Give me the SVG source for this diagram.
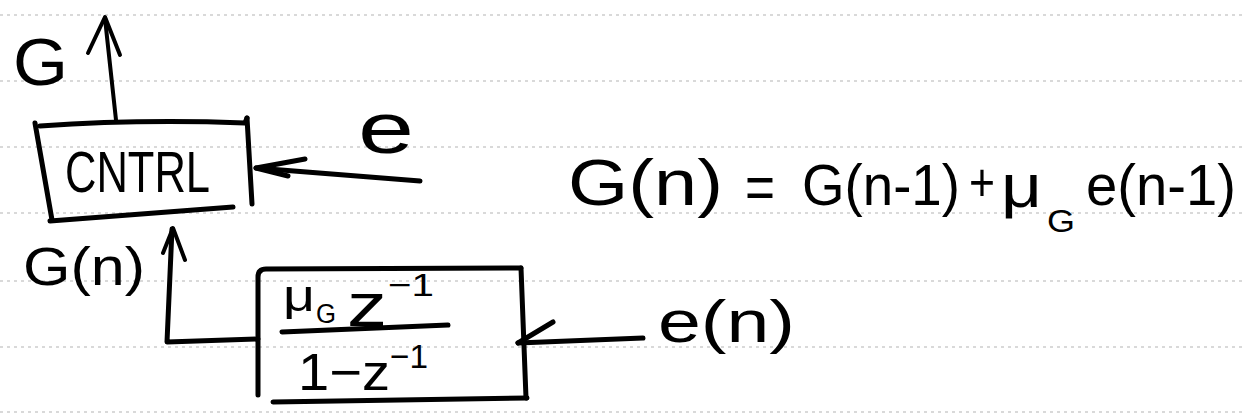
<svg xmlns="http://www.w3.org/2000/svg" width="1242" height="420" viewBox="0 0 1242 420">
<style>
.rule{stroke:#b4b4b4;stroke-width:1.2;stroke-dasharray:3 4;fill:none}
.ink{stroke:#000;stroke-width:5;fill:none;stroke-linecap:round;stroke-linejoin:round}
.thin{stroke:#000;stroke-width:4;fill:none;stroke-linecap:round;stroke-linejoin:round}
text{font-family:"Liberation Sans","DejaVu Sans",sans-serif;fill:#000}
</style>
<rect width="1242" height="420" fill="#fff"/>
<g id="paper">
<line class="rule" x1="0" y1="15" x2="1242" y2="15"/>
<line class="rule" x1="0" y1="81" x2="1242" y2="81"/>
<line class="rule" x1="0" y1="147" x2="1242" y2="147"/>
<line class="rule" x1="0" y1="213" x2="1242" y2="213"/>
<line class="rule" x1="0" y1="281" x2="1242" y2="281"/>
<line class="rule" x1="0" y1="347" x2="1242" y2="347"/>
<line class="rule" x1="0" y1="412" x2="1242" y2="412"/>
</g>
<g id="cntrl">
<path class="ink" d="M35,123 L52,220"/>
<path class="ink" d="M40,126 Q140,119 245,123 L247,118"/>
<path class="ink" d="M247,118 L252,204"/>
<path class="ink" d="M50,221 Q140,214 233,207"/>
<text x="65" y="192" font-size="58" textLength="145" lengthAdjust="spacingAndGlyphs">CNTRL</text>
</g>
<g id="integrator">
<path class="ink" d="M258,395 L258,277 Q258,269 266,269 L521,268"/>
<path class="ink" d="M521,268 L526,398"/>
<path class="ink" d="M273,402 L527,398"/>
<path class="ink" d="M282,332 L448,325"/>
<text x="283" y="311" font-size="44" textLength="32" lengthAdjust="spacingAndGlyphs">μ</text>
<text x="316" y="323" font-size="27" textLength="20" lengthAdjust="spacingAndGlyphs">G</text>
<text x="347" y="326" font-size="62" textLength="40" lengthAdjust="spacingAndGlyphs">z</text>
<text x="388" y="296" font-size="32" textLength="46" lengthAdjust="spacingAndGlyphs">−1</text>
<text x="298" y="390" font-size="52" textLength="92" lengthAdjust="spacingAndGlyphs">1−z</text>
<text x="390" y="368" font-size="34" textLength="38" lengthAdjust="spacingAndGlyphs">−1</text>
</g>
<g id="label-G">
<text x="13" y="85" font-size="66" textLength="55" lengthAdjust="spacingAndGlyphs">G</text>
</g>
<g id="label-e">
<text x="358" y="153" font-size="72" textLength="56" lengthAdjust="spacingAndGlyphs">e</text>
</g>
<g id="label-Gn">
<text x="23" y="285" font-size="53" textLength="122" lengthAdjust="spacingAndGlyphs">G(n)</text>
</g>
<g id="label-en">
<text x="658" y="342" font-size="60" textLength="137" lengthAdjust="spacingAndGlyphs">e(n)</text>
</g>
<g id="equation">
<text x="568" y="205" font-size="65" textLength="155" lengthAdjust="spacingAndGlyphs">G(n)</text>
<text x="745" y="208" font-size="62" textLength="30" lengthAdjust="spacingAndGlyphs">=</text>
<text x="802" y="205" font-size="57" textLength="158" lengthAdjust="spacingAndGlyphs">G(n-1)</text>
<text x="969" y="201" font-size="54" textLength="26" lengthAdjust="spacingAndGlyphs">+</text>
<text x="1001" y="207" font-size="62" textLength="41" lengthAdjust="spacingAndGlyphs">μ</text>
<text x="1047" y="232" font-size="31" textLength="28" lengthAdjust="spacingAndGlyphs">G</text>
<text x="1086" y="205" font-size="57" textLength="150" lengthAdjust="spacingAndGlyphs">e(n-1)</text>
</g>
<g id="connectors">
<path class="thin" d="M116,120 L107,37 L105,18"/>
<path class="thin" d="M88,53 L105,17 L120,55"/>
<path class="ink" d="M420,181 L256,168"/>
<path class="ink" d="M305,159 L256,168 L288,176"/>
<path class="ink" d="M258,339 L167,342 L172,229"/>
<path class="thin" d="M163,253 L173,228 L185,260"/>
<path class="ink" d="M643,338 L518,343"/>
<path class="ink" d="M553,322 L518,343"/>
</g>
</svg>
